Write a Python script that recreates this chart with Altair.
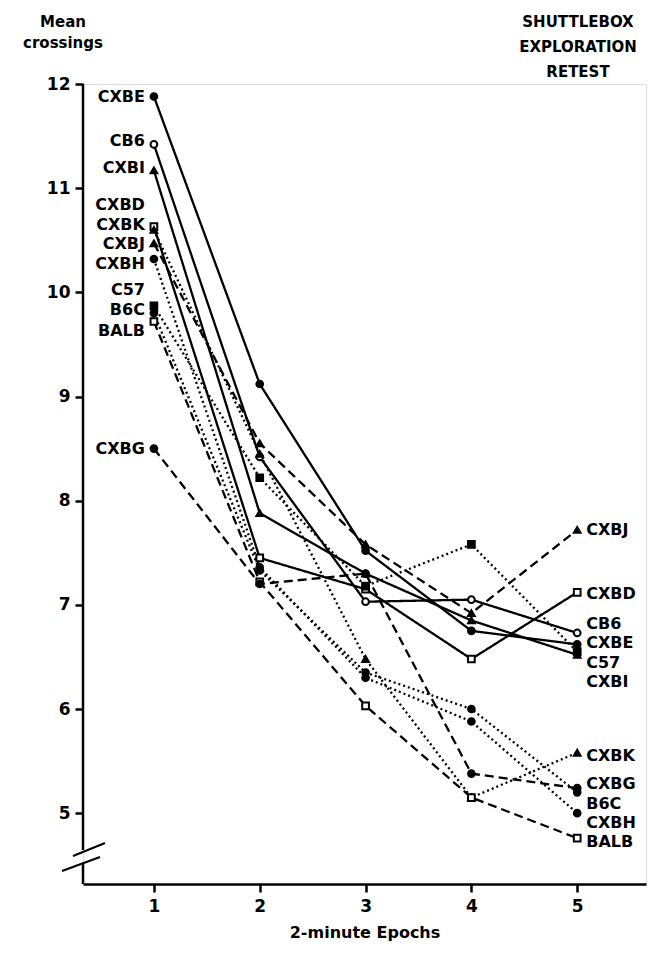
import altair as alt
import pandas as pd

# ---- data ----
epochs = [1, 2, 3, 4, 5]
strains = ["CXBE", "CB6", "CXBI", "CXBD", "CXBK", "CXBJ", "CXBH", "C57", "B6C", "BALB", "CXBG"]

cxbe = [11.88, 9.12, 7.52, 6.75, 6.62]
cb6 = [11.42, 8.42, 7.03, 7.05, 6.73]
cxbi = [11.17, 7.88, 7.30, 6.85, 6.52]
cxbd = [10.63, 7.45, 7.15, 6.48, 7.12]
cxbk = [10.60, 8.45, 6.48, 5.15, 5.58]
cxbj = [10.47, 8.55, 7.58, 6.92, 7.72]
cxbh = [10.32, 7.36, 6.30, 5.88, 5.00]
c57 = [9.87, 8.22, 7.18, 7.58, 6.55]
b6c = [9.80, 7.33, 6.35, 6.00, 5.20]
balb = [9.72, 7.22, 6.03, 5.15, 4.76]
cxbg = [8.50, 7.20, 7.30, 5.38, 5.24]

series_values = [cxbe, cb6, cxbi, cxbd, cxbk, cxbj, cxbh, c57, b6c, balb, cxbg]

# label anchor heights (in y units) for the strain names at both ends
left_label_y = [11.88, 11.45, 11.19, 10.84, 10.65, 10.46, 10.27, 10.02, 9.83, 9.63, 8.50]
right_label_y = [6.63, 6.82, 6.26, 7.10, 5.55, 7.72, 4.91, 6.44, 5.09, 4.72, 5.28]

y_ticks = [5, 6, 7, 8, 9, 10, 11, 12]

# ---- styles ----
DASHED = [9, 5]
DOTTED = [2, 3]
SOLID = [1, 0]
style = {
    "CXBE": (SOLID, "circle", "black"),
    "CB6": (SOLID, "circle", "white"),
    "CXBI": (SOLID, "triangle-up", "black"),
    "CXBD": (SOLID, "square", "white"),
    "CXBK": (DOTTED, "triangle-up", "black"),
    "CXBJ": (DASHED, "triangle-up", "black"),
    "CXBH": (DOTTED, "circle", "black"),
    "C57": (DOTTED, "square", "black"),
    "B6C": (DOTTED, "circle", "black"),
    "BALB": (DASHED, "square", "white"),
    "CXBG": (DASHED, "circle", "black"),
}

rows = []
for s, vals in zip(strains, series_values):
    for e, v in zip(epochs, vals):
        rows.append({"strain": s, "epoch": e, "value": v})
df = pd.DataFrame(rows)

left_df = pd.DataFrame({"strain": strains, "epoch": [1] * len(strains), "ly": left_label_y})
right_df = pd.DataFrame({"strain": strains, "epoch": [5] * len(strains), "ly": right_label_y})

FONT = "DejaVu Sans"
W, H = 563, 800
xscale = alt.Scale(domain=[0.33, 5.65], nice=False, zero=False)
yscale = alt.Scale(domain=[4.32, 12], nice=False, zero=False)

dash_scale = alt.Scale(domain=strains, range=[style[s][0] for s in strains])
shape_scale = alt.Scale(domain=strains, range=[style[s][1] for s in strains])
fill_scale = alt.Scale(domain=strains, range=[style[s][2] for s in strains])

x_enc = alt.X(
    "epoch:Q",
    scale=xscale,
    axis=alt.Axis(
        values=epochs, format="d", title="2-minute Epochs", grid=False,
        tickSize=8, tickWidth=2.5, tickColor="black", domainWidth=2.5, domainColor="black",
        labelFont=FONT, labelFontSize=17, labelFontWeight="bold", labelColor="black",
        labelPadding=6, titleFont=FONT, titleFontSize=16, titleFontWeight="bold",
        titleColor="black", titlePadding=10,
    ),
)
y_enc = alt.Y(
    "value:Q",
    scale=yscale,
    axis=alt.Axis(
        values=y_ticks, format="d", title=None, grid=False, domain=False,
        tickSize=8, tickWidth=2.5, tickColor="black",
        labelFont=FONT, labelFontSize=17, labelFontWeight="bold", labelColor="black",
        labelPadding=5,
    ),
)

lines = alt.Chart(df).mark_line(color="black", strokeWidth=2.3).encode(
    x=x_enc,
    y=y_enc,
    detail="strain:N",
    strokeDash=alt.StrokeDash("strain:N", scale=dash_scale, legend=None),
)

points = alt.Chart(df).mark_point(stroke="black", strokeWidth=2, size=45, opacity=1, fillOpacity=1).encode(
    x=alt.X("epoch:Q", scale=xscale),
    y=alt.Y("value:Q", scale=yscale),
    shape=alt.Shape("strain:N", scale=shape_scale, legend=None),
    fill=alt.Fill("strain:N", scale=fill_scale, legend=None),
)

left_text = alt.Chart(left_df).mark_text(
    align="right", baseline="middle", dx=-9, font=FONT, fontSize=16, fontWeight="bold", color="black"
).encode(x=alt.X("epoch:Q", scale=xscale), y=alt.Y("ly:Q", scale=yscale), text="strain:N")

right_text = alt.Chart(right_df).mark_text(
    align="left", baseline="middle", dx=9, font=FONT, fontSize=16, fontWeight="bold", color="black"
).encode(x=alt.X("epoch:Q", scale=xscale), y=alt.Y("ly:Q", scale=yscale), text="strain:N")

one = pd.DataFrame({"k": [0]})

# y axis line with a scale break near the bottom
axis_upper = alt.Chart(one).mark_rule(color="black", strokeWidth=2.5).encode(
    x=alt.value(0), y=alt.value(0), y2=alt.value(766)
)
axis_lower = alt.Chart(one).mark_rule(color="black", strokeWidth=2.5).encode(
    x=alt.value(0), y=alt.value(779), y2=alt.value(H)
)
slash1 = alt.Chart(one).mark_rule(color="black", strokeWidth=2.2).encode(
    x=alt.value(-10), x2=alt.value(22), y=alt.value(772), y2=alt.value(759)
)
slash2 = alt.Chart(one).mark_rule(color="black", strokeWidth=2.2).encode(
    x=alt.value(-21), x2=alt.value(17), y=alt.value(787), y2=alt.value(773)
)

ytitle = alt.Chart(one).mark_text(
    align="center", baseline="top", lineBreak="\n", lineHeight=21,
    font=FONT, fontSize=15, fontWeight="bold", color="black",
).encode(x=alt.value(-20), y=alt.value(-69), text=alt.value("Mean\ncrossings"))

rtitle = alt.Chart(one).mark_text(
    align="center", baseline="top", lineBreak="\n", lineHeight=25,
    font=FONT, fontSize=15, fontWeight="bold", color="black",
).encode(x=alt.value(495), y=alt.value(-69), text=alt.value("SHUTTLEBOX\nEXPLORATION\nRETEST"))

chart = alt.layer(
    lines, points, left_text, right_text, axis_upper, axis_lower, slash1, slash2, ytitle, rtitle
).properties(
    width=W, height=H,
    autosize=alt.AutoSizeParams(type="none"),
    padding={"left": 75, "top": 76, "right": 2, "bottom": 63},
).configure_view(stroke=None).configure(background="white")

chart.save("out.html", embed_options={"renderer": "svg", "actions": False})
